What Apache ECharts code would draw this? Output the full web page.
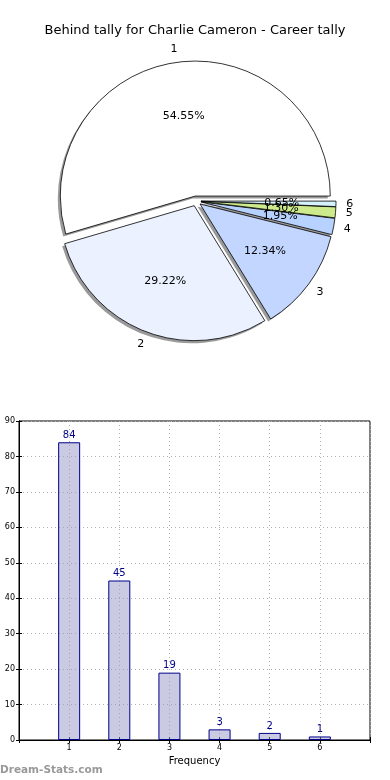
<!DOCTYPE html>
<html><head><meta charset="utf-8">
<script src="https://cdn.jsdelivr.net/npm/echarts@6/dist/echarts.min.js"></script>
<style>html,body{margin:0;padding:0;background:#fff}#c{width:390px;height:780px}</style>
</head><body><div id="c"></div>
<script>
const titleText = 'Behind tally for Charlie Cameron - Career tally';
const categories = ['1', '2', '3', '4', '5', '6'];
const counts = [84, 45, 19, 3, 2, 1];
const sliceColors = ['#ffffff', '#ebf1ff', '#c2d6ff', '#b8d2ff', '#cdea8c', '#d6f2ff'];
const xPositions = [1, 2, 3, 4, 5, 6];
const yMin = 0, yMax = 90, yStep = 10;
const xMin = 0, xMax = 7;

const total = counts.reduce((a, b) => a + b, 0);
const pct = counts.map(v => (v / total * 100).toFixed(2) + '%');

const R = 135;
const C = [196, 201];
const common = {
  type: 'pie', startAngle: 0, clockwise: false,
  selectedMode: 'multiple', selectedOffset: 5, animation: false, silent: true,
  labelLine: { show: false }, emphasis: { disabled: true },
  labelLayout: { hideOverlap: false }, avoidLabelOverlap: false
};

const mainData = categories.map((c, i) => ({
  name: c, value: counts[i], selected: true,
  itemStyle: { color: sliceColors[i] }
}));
const shadowData = categories.map((c, i) => ({
  name: c, value: counts[i], selected: true,
  itemStyle: { color: '#9a9a9a', borderWidth: 0 }
}));
const ghostData = categories.map((c, i) => ({
  name: c, value: counts[i], selected: true,
  itemStyle: { color: 'rgba(0,0,0,0)', borderWidth: 0 }
}));

const option = {
  backgroundColor: '#fff',
  animation: false,
  title: {
    text: titleText, left: 'center', top: 19,
    textStyle: { fontFamily: 'DejaVu Sans', fontSize: 13, fontWeight: 'normal', color: '#000' }
  },
  graphic: [{
    type: 'text', left: 0, top: 765,
    style: { text: 'Dream-Stats.com', fill: '#999', font: 'bold 10.5px "DejaVu Sans"' }
  }],
  grid: {
    left: 19, right: 20, top: 421, bottom: 40,
    show: true, borderColor: '#000', borderWidth: 1, backgroundColor: 'transparent'
  },
  xAxis: [{
    type: 'value', min: xMin, max: xMax, interval: 1, position: 'bottom',
    name: 'Frequency', nameLocation: 'middle', nameGap: 16,
    nameTextStyle: { fontFamily: 'DejaVu Sans', fontSize: 10, color: '#000' },
    axisLine: { show: true, lineStyle: { color: '#000' } },
    axisTick: { show: true, inside: true, length: 3, lineStyle: { color: '#000' } },
    axisLabel: {
      fontFamily: 'DejaVu Sans', fontSize: 8, color: '#000', margin: 4,
      formatter: v => (xPositions.indexOf(v) >= 0 ? categories[xPositions.indexOf(v)] : '')
    },
    splitLine: { show: true, lineStyle: { color: '#b0b0b0', type: [1, 3], width: 1 } }
  }, {
    type: 'value', min: xMin, max: xMax, interval: 1, position: 'top',
    axisLine: { show: true, lineStyle: { color: '#000' } },
    axisTick: { show: true, inside: true, length: 3, lineStyle: { color: '#000' } },
    axisLabel: { show: false }, splitLine: { show: false }
  }],
  yAxis: [{
    type: 'value', min: yMin, max: yMax, interval: yStep, position: 'left',
    axisLine: { show: true, lineStyle: { color: '#000' } },
    axisTick: { show: true, inside: true, length: 3, lineStyle: { color: '#000' } },
    axisLabel: { fontFamily: 'DejaVu Sans', fontSize: 8, color: '#000', margin: 4 },
    splitLine: { show: true, lineStyle: { color: '#b0b0b0', type: [1, 3], width: 1 } }
  }, {
    type: 'value', min: yMin, max: yMax, interval: yStep, position: 'right',
    axisLine: { show: true, lineStyle: { color: '#000' } },
    axisTick: { show: true, inside: true, length: 3, lineStyle: { color: '#000' } },
    axisLabel: { show: false }, splitLine: { show: false }
  }],
  series: [
    Object.assign({}, common, {
      center: [C[0] - 2.5, C[1] + 2.5], radius: [0, R], z: 1,
      data: shadowData, label: { show: false }
    }),
    Object.assign({}, common, {
      center: C, radius: [0, R], z: 2,
      data: mainData,
      itemStyle: { borderColor: '#000', borderWidth: 0.8 },
      label: { show: false }
    }),
    Object.assign({}, common, {
      center: C, radius: [0, R * 1.15], z: 3,
      data: ghostData,
      label: {
        show: true, position: 'inside', color: '#000', textBorderWidth: 0,
        fontFamily: 'DejaVu Sans', fontSize: 11,
        formatter: p => pct[p.dataIndex]
      }
    }),
    Object.assign({}, common, {
      center: C, radius: [0, R * 2.16], z: 3,
      data: ghostData,
      label: {
        show: true, position: 'inside', color: '#000', textBorderWidth: 0,
        fontFamily: 'DejaVu Sans', fontSize: 11,
        formatter: p => categories[p.dataIndex]
      }
    }),
    {
      type: 'bar', xAxisIndex: 0, yAxisIndex: 0, barWidth: 22,
      data: xPositions.map((x, i) => [x, counts[i]]),
      itemStyle: { color: 'rgba(150,150,200,0.5)', borderColor: '#00008b', borderWidth: 1 },
      label: {
        show: true, position: 'top', distance: 2, color: '#00008b',
        fontFamily: 'DejaVu Sans', fontSize: 10
      },
      emphasis: { disabled: true }
    }
  ]
};

const chart = echarts.init(document.getElementById('c'), null, { renderer: 'canvas' });
chart.setOption(option);
</script></body></html>
